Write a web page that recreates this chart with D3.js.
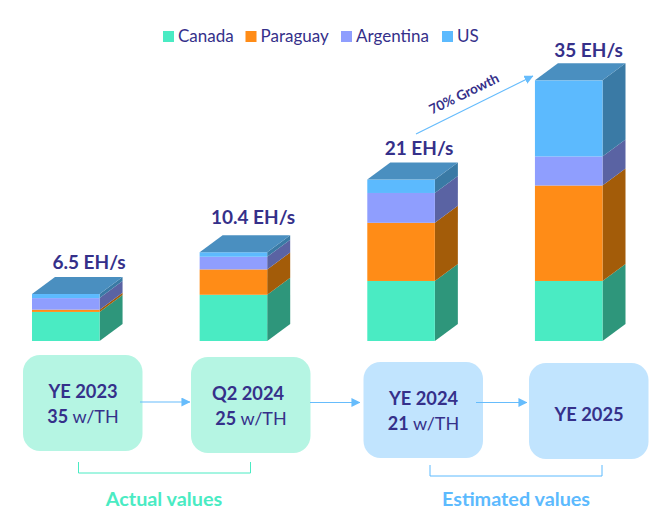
<!DOCTYPE html>
<html><head><meta charset="utf-8">
<script src="https://cdn.jsdelivr.net/npm/d3@7"></script>
<style>html,body{margin:0;padding:0;background:#fff}svg{display:block}text{font-family:Lato,"Open Sans",sans-serif}</style>
</head><body><div id="c"></div>
<script>
const categories = ["YE 2023","Q2 2024","YE 2024","YE 2025"];
const seriesNames = ["Canada","Paraguay","Argentina","US"];
const canada = [3.9,6.2,8.05,8.05];
const paraguay = [0.3,3.4,7.8,12.8];
const argentina = [1.55,1.7,4.0,3.9];
const us = [0.55,0.6,1.8,10.2];
const totalLabels = ["6.5 EH/s","10.4 EH/s","21 EH/s","35 EH/s"];
const efficiency = ["35","25","21",""];

const W=666,H=519;
const INK="#35308a";
const faceCol=d3.scaleOrdinal(seriesNames,["#4aebc3","#ff8c17","#8f9efe","#5cbafe"]);
const sideCol=d3.scaleOrdinal(seriesNames,["#2e967b","#a35c09","#5a63a3","#3a7aa5"]);
const TOP="#4a8fc0";
const DX=23,DY=-17;

const svg=d3.select("#c").append("svg").attr("width",W).attr("height",H).attr("viewBox",[0,0,W,H]);
const x=d3.scaleBand().domain(categories).range([32,602.5]).paddingInner(0.597).paddingOuter(0);
const y=d3.scaleLinear().domain([0,35]).range([341,80]);

const rows=categories.map((c,i)=>({cat:c,Canada:canada[i],Paraguay:paraguay[i],Argentina:argentina[i],US:us[i]}));
const stacked=d3.stack().keys(seriesNames)(rows);

const g=svg.append("g");
stacked.forEach(s=>{
  const sg=g.append("g");
  sg.selectAll("polygon").data(s).join("polygon")
    .attr("fill",sideCol(s.key))
    .attr("points",d=>{
      const r=x(d.data.cat)+x.bandwidth();
      return [[r,y(d[0])],[r+DX,y(d[0])+DY],[r+DX,y(d[1])+DY],[r,y(d[1])]].join(" ");
    });
  sg.selectAll("rect").data(s).join("rect")
    .attr("x",d=>x(d.data.cat)).attr("width",x.bandwidth())
    .attr("y",d=>y(d[1])).attr("height",d=>y(d[0])-y(d[1]))
    .attr("fill",faceCol(s.key));
});
// top faces
const last=stacked[stacked.length-1];
g.append("g").selectAll("polygon").data(last).join("polygon").attr("fill",TOP)
  .attr("points",d=>{
    const l=x(d.data.cat),r=l+x.bandwidth(),t=y(d[1]);
    return [[l,t],[l+DX,t+DY],[r+DX,t+DY],[r,t]].join(" ");
  });

// total labels
const labelX=[89,253,419,588.5], labelY=[269,224,155,57];
svg.append("g").selectAll("text").data(totalLabels).join("text")
  .attr("x",(d,i)=>labelX[i]).attr("y",(d,i)=>labelY[i]).attr("text-anchor","middle")
  .attr("font-size",19).attr("font-weight",700).attr("fill",INK).text(d=>d);

// legend
const legX=[163,245.5,341,442];
const leg=svg.append("g").selectAll("g").data(seriesNames).join("g").attr("transform",(d,i)=>`translate(${legX[i]},31)`);
leg.append("rect").attr("width",11).attr("height",11).attr("fill",d=>faceCol(d));
leg.append("text").attr("x",15).attr("y",11).attr("font-size",17).attr("fill",INK).text(d=>d);

// boxes
const boxes=[[23,355,"#b5f5e3"],[191,357,"#b5f5e3"],[363.5,362,"#c1e4fe"],[529,363,"#c1e4fe"]];
const titleShift=[0,-3,0,0];
const bg=svg.append("g").selectAll("g").data(categories).join("g").attr("transform",(d,i)=>`translate(${boxes[i][0]},${boxes[i][1]})`);
bg.append("rect").attr("width",119.5).attr("height",96).attr("rx",17).attr("fill",(d,i)=>boxes[i][2]);
bg.append("text").attr("x",(d,i)=>60+titleShift[i]).attr("y",(d,i)=>efficiency[i]?43:58).attr("text-anchor","middle")
  .attr("font-size",18.3).attr("font-weight",700).attr("fill",INK).text(d=>d);
const eff=bg.filter((d,i)=>efficiency[i]).append("text").attr("x",60).attr("y",68).attr("text-anchor","middle")
  .attr("font-size",18).attr("fill",INK);
eff.append("tspan").attr("font-weight",700).text(d=>efficiency[categories.indexOf(d)]+" ");
eff.append("tspan").text("w/TH");

// arrows
const ARW="#66bcfc";
svg.append("defs").append("marker").attr("id","ah").attr("viewBox","0 0 10 10").attr("refX",9.5).attr("refY",5)
  .attr("markerUnits","userSpaceOnUse").attr("markerWidth",9).attr("markerHeight",9).attr("orient","auto")
  .append("path").attr("d","M0,0L10,5L0,10Z").attr("fill",ARW);
const arrows=[[140,402,190,402],[310,402.5,360,402.5],[476,402.5,527,402.5],[416,134,533,76]];
svg.append("g").selectAll("line").data(arrows).join("line")
  .attr("x1",d=>d[0]).attr("y1",d=>d[1]).attr("x2",d=>d[2]).attr("y2",d=>d[3])
  .attr("stroke",ARW).attr("stroke-width",1.2).attr("marker-end","url(#ah)");
svg.append("text").attr("transform","translate(466,98) rotate(-26)").attr("text-anchor","middle")
  .attr("font-size",13.5).attr("font-weight",700).attr("fill",INK).text("70% Growth");

// brackets and captions
const brackets=[[78.5,250.5,462,473,"#4aebc3","Actual values",164],[430,602,465,476,"#5cbafe","Estimated values",516]];
const br=svg.append("g").selectAll("g").data(brackets).join("g");
br.append("path").attr("fill","none").attr("stroke",d=>d[4]).attr("stroke-width",1)
  .attr("d",d=>`M${d[0]},${d[2]}V${d[3]}H${d[1]}V${d[2]}`);
br.append("text").attr("x",d=>d[6]).attr("y",506).attr("text-anchor","middle")
  .attr("font-size",19.8).attr("font-weight",700).attr("fill",d=>d[4]).text(d=>d[5]);
</script></body></html>
